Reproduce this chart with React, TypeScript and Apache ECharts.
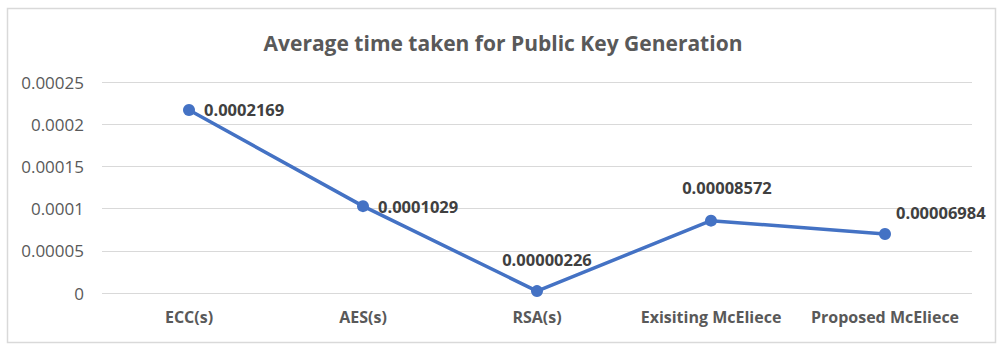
import React, { useEffect, useRef } from "react";
import * as echarts from "echarts";

const categories = ["ECC(s)", "AES(s)", "RSA(s)", "Exisiting McEliece", "Proposed McEliece"];
const values = [0.0002169, 0.0001029, 0.00000226, 0.00008572, 0.00006984];
const labelTexts = ["0.0002169", "0.0001029", "0.00000226", "0.00008572", "0.00006984"];
const yTicks = ["0", "0.00005", "0.0001", "0.00015", "0.0002", "0.00025"];

const FONT = "'Open Sans', 'Noto Sans', sans-serif";

export default function App() {
  const ref = useRef<HTMLDivElement>(null);
  useEffect(() => {
    document.body.style.margin = "0";
    const chart = echarts.init(ref.current!, null, { renderer: "svg" });
    const labelCfg = [
      { position: "right", distance: 9, offset: [0, 0] },
      { position: "right", distance: 9, offset: [0, 0] },
      { position: "top", distance: 17, offset: [10, 0] },
      { position: "top", distance: 19, offset: [16, 0] },
      { position: "right", distance: 5, offset: [0, -22] },
    ];
    chart.setOption({
      animation: false,
      backgroundColor: "#ffffff",
      title: {
        text: "Average time taken for Public Key Generation",
        left: "center",
        top: 27,
        textStyle: { fontFamily: FONT, fontSize: 21, fontWeight: "bold", color: "#595959" },
      },
      graphic: [
        {
          type: "rect",
          shape: { x: 7.5, y: 8.5, width: 988, height: 334 },
          style: { fill: "none", stroke: "#d9d9d9", lineWidth: 1.5 },
          silent: true,
        },
      ],
      grid: { left: 102, right: 34, top: 82, bottom: 60 },
      xAxis: {
        type: "category",
        data: categories,
        axisLine: { show: false },
        axisTick: { show: false },
        axisLabel: {
          interval: 0,
          hideOverlap: false,
          fontFamily: FONT,
          fontSize: 16,
          fontWeight: "bold",
          color: "#595959",
          margin: 16,
        },
      },
      yAxis: {
        type: "value",
        min: 0,
        max: 0.00025,
        interval: 0.00005,
        axisLine: { show: false },
        axisTick: { show: false },
        splitLine: { lineStyle: { color: "#d9d9d9", width: 1 } },
        axisLabel: {
          fontFamily: FONT,
          fontSize: 17,
          color: "#595959",
          margin: 18,
          formatter: (v: number) => {
            const i = Math.round(v / 0.00005);
            return yTicks[i] ?? String(v);
          },
        },
      },
      series: [
        {
          type: "line",
          data: values.map((v, i) => ({
            value: v,
            label: {
              show: true,
              position: labelCfg[i].position,
              distance: labelCfg[i].distance,
              offset: labelCfg[i].offset,
              formatter: () => labelTexts[i],
            },
          })),
          symbol: "circle",
          symbolSize: 12,
          lineStyle: { color: "#4472c4", width: 3.5 },
          itemStyle: { color: "#4472c4" },
          label: {
            fontFamily: FONT,
            fontSize: 16.5,
            fontWeight: "bold",
            color: "#404040",
          },
        },
      ],
    });
    return () => chart.dispose();
  }, []);
  return <div ref={ref} style={{ width: 1006, height: 353 }} />;
}
